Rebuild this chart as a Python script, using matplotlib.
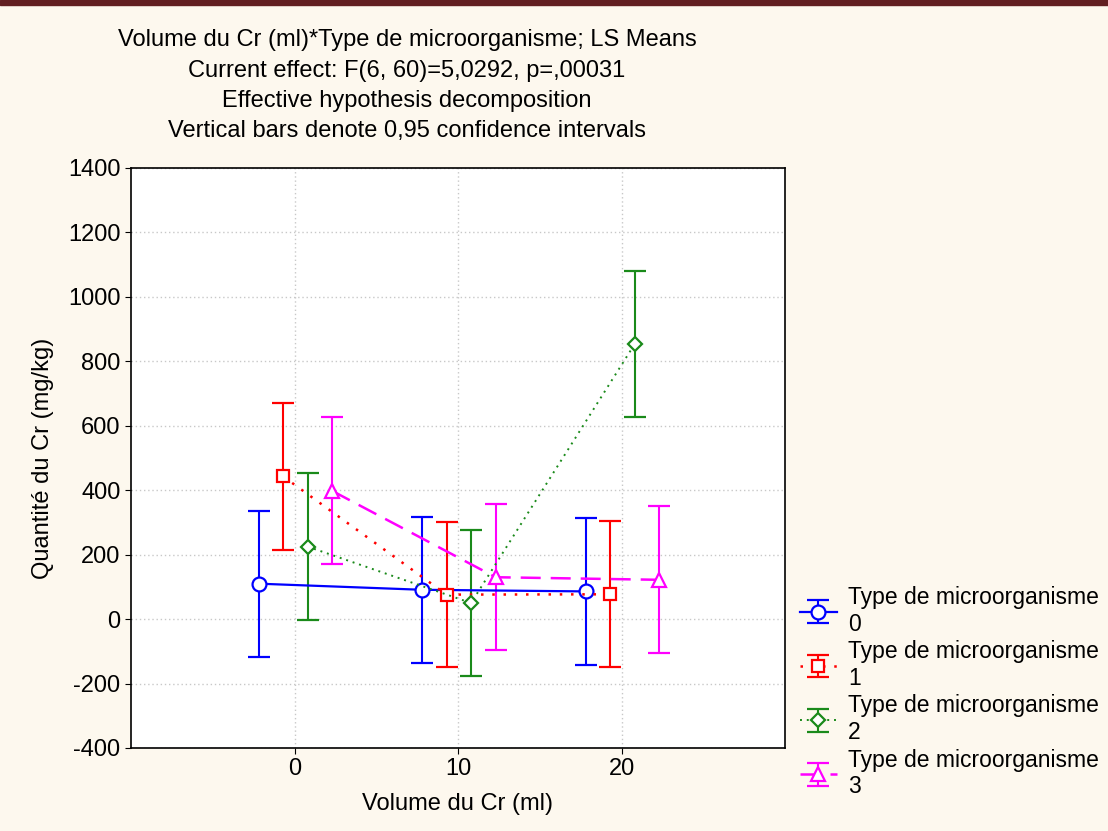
import matplotlib.pyplot as plt
import numpy as np

plt.rcParams['font.family'] = ['Liberation Sans', 'DejaVu Sans']
plt.rcParams['axes.unicode_minus'] = False

volumes = [0, 10, 20]
types = ['0', '1', '2', '3']
offsets = [-2.2, -0.7, 0.8, 2.3]

means = {
    '0': [110, 91, 86],
    '1': [443, 76, 77],
    '2': [225, 50, 853],
    '3': [398, 130, 122],
}
upper = {
    '0': [336, 317, 313],
    '1': [670, 302, 303],
    '2': [452, 277, 1080],
    '3': [627, 357, 350],
}
lower = {
    '0': [-117, -136, -141],
    '1': [216, -150, -150],
    '2': [-2, -177, 626],
    '3': [172, -97, -105],
}

colors = ['#0000FF', '#FF0000', '#1A8A1A', '#FF00FF']
markers = ['o', 's', 'D', '^']
msizes = [10, 9, 7, 10]
lstyles = ['-', (0, (1, 3.5)), (0, (1, 2.5)), (0, (8, 4))]
lwidths = [1.6, 1.8, 1.4, 1.8]

fs = 17
bg = '#FDF8EE'
fig = plt.figure(figsize=(11.08, 8.31), dpi=100, facecolor=bg)
ax = fig.add_axes([131 / 1108, 1 - 748 / 831, 654 / 1108, 580 / 831])
ax.set_facecolor('white')

for i, t in enumerate(types):
    x = np.array(volumes) + offsets[i]
    m = np.array(means[t])
    err = [m - np.array(lower[t]), np.array(upper[t]) - m]
    ax.errorbar(x, m, yerr=err, color=colors[i], marker=markers[i],
                markersize=msizes[i], markerfacecolor='white',
                markeredgecolor=colors[i], markeredgewidth=1.6,
                linestyle=lstyles[i], linewidth=lwidths[i],
                elinewidth=1.5, capsize=8, capthick=1.5,
                label='Type de microorganisme\n' + t)

ax.set_xlim(-10, 30)
ax.set_ylim(-400, 1400)
ax.set_xticks(volumes)
ax.set_yticks(np.arange(-400, 1401, 200))
ax.grid(True, linestyle=(0, (1, 2)), color='#C8C8C8', linewidth=1)
ax.set_axisbelow(True)
for s in ax.spines.values():
    s.set_color('black')
    s.set_linewidth(1.2)
ax.tick_params(direction='out', length=4, labelsize=fs, colors='black')

ax.set_xlabel('Volume du Cr (ml)', fontsize=fs, labelpad=9)
ax.set_ylabel('Quantité du Cr (mg/kg)', fontsize=fs, labelpad=10)

title_lines = [
    'Volume du Cr (ml)*Type de microorganisme; LS Means',
    'Current effect: F(6, 60)=5,0292, p=,00031',
    'Effective hypothesis decomposition',
    'Vertical bars denote 0,95 confidence intervals',
]
for k, line in enumerate(title_lines):
    fig.text(407 / 1108, 1 - (40 + 30.5 * k) / 831, line, ha='center',
             va='center', fontsize=fs)

leg = ax.legend(loc='upper left', bbox_to_anchor=(1.009, 0.295),
                frameon=False, fontsize=16.5, handlelength=1.6,
                labelspacing=0.2, handletextpad=0.5, borderaxespad=0)

# dark band at the top of the page
fig.patches.append(plt.Rectangle((0, 1 - 5 / 831), 1, 5 / 831,
                                 transform=fig.transFigure,
                                 color='#621F21', zorder=10))

fig.savefig('out.png', dpi=100, facecolor=bg)
